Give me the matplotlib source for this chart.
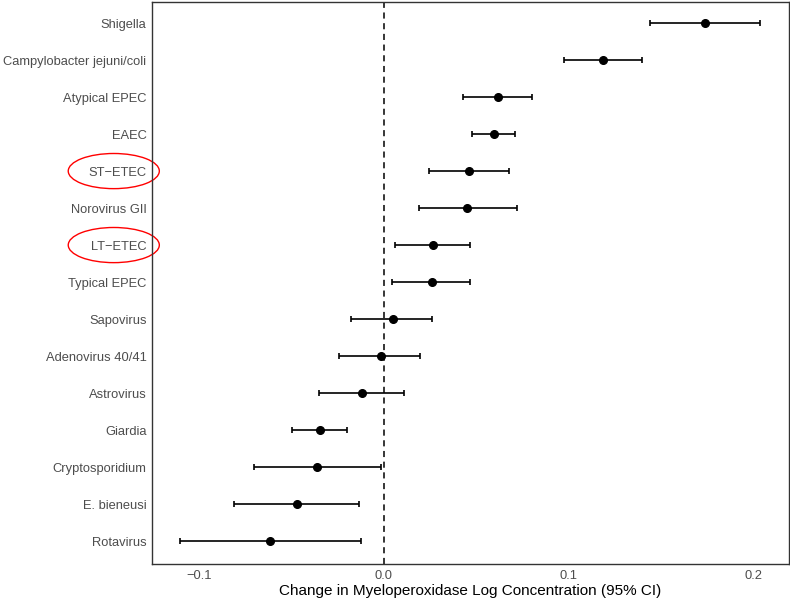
"""
Change in myeloperoxidase log concentration by pathogen (forest plot)
"""

import matplotlib.pyplot as plt
import matplotlib.transforms as mtransforms
from matplotlib.patches import Ellipse

plt.rcParams.update(
    {
        "font.family": ["Liberation Sans", "DejaVu Sans"],
        "figure.dpi": 100,
    }
)

pathogens = [
    "Shigella", "Campylobacter jejuni/coli", "Atypical EPEC", "EAEC", "ST\u2212ETEC",
    "Norovirus GII", "LT\u2212ETEC", "Typical EPEC", "Sapovirus", "Adenovirus 40/41",
    "Astrovirus", "Giardia", "Cryptosporidium", "E. bieneusi", "Rotavirus",
]
estimate = [0.1735, 0.1182, 0.0616, 0.0595, 0.0459, 0.0450, 0.0267, 0.0258,
            0.0047, -0.0018, -0.0121, -0.0346, -0.0361, -0.0472, -0.0616]
ci_low = [0.1438, 0.0975, 0.0429, 0.0476, 0.0245, 0.0191, 0.0059, 0.0045,
          -0.0180, -0.0242, -0.0350, -0.0496, -0.0701, -0.0809, -0.1103]
ci_high = [0.2034, 0.1395, 0.0802, 0.0708, 0.0677, 0.0717, 0.0468, 0.0467,
           0.0261, 0.0196, 0.0108, -0.0202, -0.0018, -0.0134, -0.0124]
highlighted = ["ST\u2212ETEC", "LT\u2212ETEC"]

n = len(pathogens)
ypos = [n - i for i in range(n)]
err = [[e - lo for e, lo in zip(estimate, ci_low)],
       [hi - e for e, hi in zip(estimate, ci_high)]]

fig = plt.figure(figsize=(7.9, 6))
ax = fig.add_axes([0.1924, 0.06, 0.8063, 0.9367])

ax.axvline(0, color="black", linestyle=(0, (4, 3)), linewidth=1.1, zorder=1)
ax.errorbar(estimate, ypos, xerr=err, fmt="o", color="black", ecolor="black",
            markersize=5.5, elinewidth=1.2, capsize=2.2, capthick=1.2, zorder=3)

ax.set_yticks(ypos)
ax.set_yticklabels(pathogens, fontsize=9.3, color="#4D4D4D")
ax.set_xticks([-0.1, 0.0, 0.1, 0.2])
ax.set_xticklabels(["\u22120.1", "0.0", "0.1", "0.2"], fontsize=9.3, color="#4D4D4D")
ax.tick_params(axis="both", length=0, pad=4)
ax.set_xlim(-0.1254, 0.219)
ax.set_ylim(0.38, n + 0.57)
ax.set_xlabel("Change in Myeloperoxidase Log Concentration (95% CI)", fontsize=11,
              labelpad=2)
for s in ax.spines.values():
    s.set_color("#333333")
    s.set_linewidth(1.0)

# red ellipses around the ETEC labels
trans = mtransforms.blended_transform_factory(ax.transAxes, ax.transData)
for name in highlighted:
    y = ypos[pathogens.index(name)]
    ax.add_patch(Ellipse((-0.060, y), 0.143, 0.95, transform=trans, fill=False,
                         edgecolor="red", linewidth=1.0, clip_on=False))

fig.savefig("out.png", dpi=100, facecolor="white")
plt.close(fig)
